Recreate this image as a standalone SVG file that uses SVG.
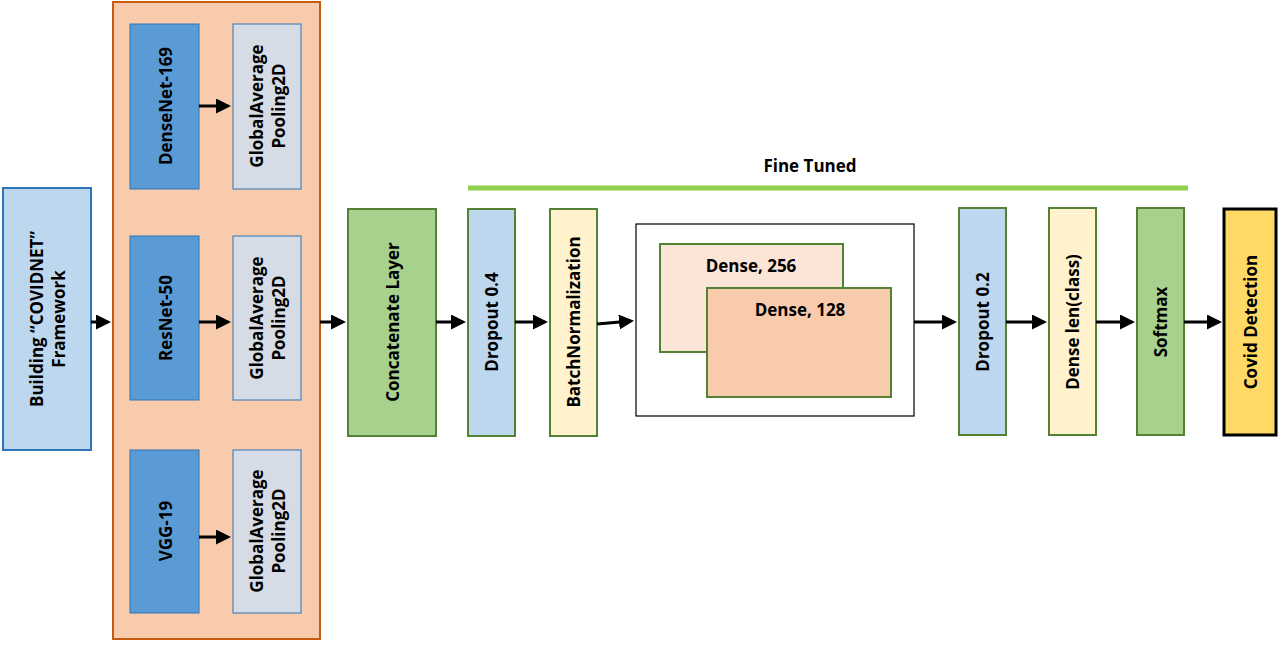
<svg xmlns="http://www.w3.org/2000/svg" width="1280" height="648" viewBox="0 0 1280 648">
<style>
text{font-family:"Open Sans","Liberation Sans",sans-serif;font-weight:bold;font-size:17px;fill:#000;text-anchor:middle;dominant-baseline:central}
.c{stroke:#000;stroke-width:3;fill:none;marker-end:url(#a)}
</style>
<defs><marker id="a" markerWidth="5" markerHeight="5" refX="4" refY="2.5" orient="auto" markerUnits="strokeWidth"><path d="M0,0L5,2.5L0,5z" fill="#000"/></marker></defs>
<rect width="1280" height="648" fill="#fff"/>
<g id="building"><rect x="3" y="188" width="88" height="262" fill="#BDD7EE" stroke="#2E75B6" stroke-width="2"/><text transform="translate(47,319) rotate(-90)"><tspan x="0" dy="-11">Building “COVIDNET”</tspan><tspan x="0" dy="22">Framework</tspan></text></g>
<g id="backbones"><rect x="113" y="2" width="207" height="637" fill="#F8CBAD" stroke="#C55A11" stroke-width="2"/></g>
<g id="densenet"><rect x="130" y="24" width="69" height="165" fill="#5B9BD5" stroke="#2E75B6"/><text transform="translate(165,106) rotate(-90)">DenseNet-169</text></g>
<g id="gap1"><rect x="233" y="24" width="68" height="165" fill="#D6DCE5" stroke="#2E75B6"/><text transform="translate(267,106) rotate(-90)"><tspan x="0" dy="-11">GlobalAverage</tspan><tspan x="0" dy="22">Pooling2D</tspan></text></g>
<g id="resnet"><rect x="130" y="236" width="69" height="164" fill="#5B9BD5" stroke="#2E75B6"/><text transform="translate(165,318) rotate(-90)">ResNet-50</text></g>
<g id="gap2"><rect x="233" y="236" width="68" height="164" fill="#D6DCE5" stroke="#2E75B6"/><text transform="translate(267,318) rotate(-90)"><tspan x="0" dy="-11">GlobalAverage</tspan><tspan x="0" dy="22">Pooling2D</tspan></text></g>
<g id="vgg"><rect x="130" y="450" width="69" height="163" fill="#5B9BD5" stroke="#2E75B6"/><text transform="translate(165,531) rotate(-90)">VGG-19</text></g>
<g id="gap3"><rect x="233" y="450" width="68" height="163" fill="#D6DCE5" stroke="#2E75B6"/><text transform="translate(267,531) rotate(-90)"><tspan x="0" dy="-11">GlobalAverage</tspan><tspan x="0" dy="22">Pooling2D</tspan></text></g>
<g id="concat"><rect x="348" y="209" width="88" height="227" fill="#A9D18E" stroke="#548235" stroke-width="2"/><text transform="translate(392,322) rotate(-90)">Concatenate Layer</text></g>
<g id="dropout04"><rect x="468" y="209" width="47" height="227" fill="#BDD7EE" stroke="#548235" stroke-width="2"/><text transform="translate(491,322) rotate(-90)">Dropout 0.4</text></g>
<g id="batchnorm"><rect x="550" y="209" width="47" height="227" fill="#FFF2CC" stroke="#548235" stroke-width="2"/><text transform="translate(573,322) rotate(-90)">BatchNormalization</text></g>
<g id="finetuned"><line x1="468" y1="188" x2="1188" y2="188" stroke="#92D050" stroke-width="5"/><text x="810" y="165">Fine Tuned</text></g>
<g id="dense"><rect x="636" y="224" width="278" height="192" fill="#fff" stroke="#000" stroke-width="1.2"/>
<rect x="660" y="244" width="183" height="108" fill="#FBE5D6" stroke="#548235" stroke-width="2"/><text x="751" y="265">Dense, 256</text>
<rect x="707" y="288" width="184" height="109" fill="#F8CBAD" stroke="#548235" stroke-width="2"/><text x="800" y="309">Dense, 128</text></g>
<g id="dropout02"><rect x="959" y="208" width="47" height="227" fill="#BDD7EE" stroke="#548235" stroke-width="2"/><text transform="translate(982,322) rotate(-90)">Dropout 0.2</text></g>
<g id="denselen"><rect x="1049" y="208" width="47" height="227" fill="#FFF2CC" stroke="#548235" stroke-width="2"/><text transform="translate(1072,322) rotate(-90)">Dense len(class)</text></g>
<g id="softmax"><rect x="1137" y="208" width="47" height="227" fill="#A9D18E" stroke="#548235" stroke-width="2"/><text transform="translate(1160,322) rotate(-90)">Softmax</text></g>
<g id="covid"><rect x="1224" y="209" width="52" height="226" fill="#FFD966" stroke="#000" stroke-width="3"/><text transform="translate(1250,322) rotate(-90)">Covid Detection</text></g>
<g id="connectors">
<path class="c" d="M91,322H108"/>
<path class="c" d="M199,106H228"/>
<path class="c" d="M199,322H228"/>
<path class="c" d="M199,537H228"/>
<path class="c" d="M320,322H343"/>
<path class="c" d="M436,322H463"/>
<path class="c" d="M515,322H545"/>
<path class="c" d="M597,324L631,321"/>
<path class="c" d="M914,322H954"/>
<path class="c" d="M1006,322H1044"/>
<path class="c" d="M1096,322H1132"/>
<path class="c" d="M1184,322H1219"/>
</g>
</svg>
